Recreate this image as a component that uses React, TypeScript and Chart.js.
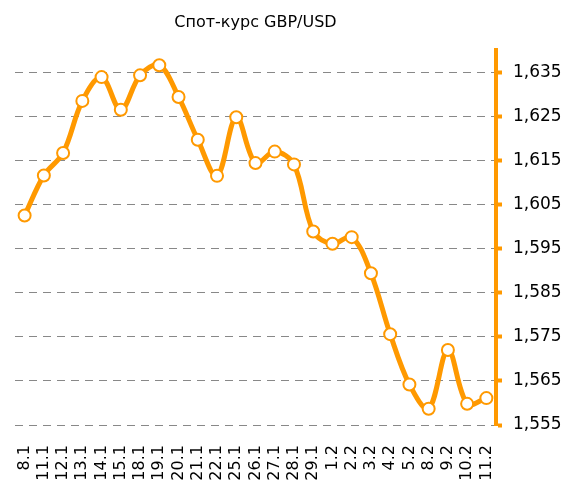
import React, { useEffect, useRef } from 'react';
import { Chart, registerables } from 'chart.js';

Chart.register(...registerables);

const categories = ['8.1', '11.1', '12.1', '13.1', '14.1', '15.1', '18.1', '19.1', '20.1', '21.1', '22.1', '25.1', '26.1', '27.1', '28.1', '29.1', '1.2', '2.2', '3.2', '4.2', '5.2', '8.2', '9.2', '10.2', '11.2'];
const rates = [1.6025, 1.6116, 1.6167, 1.6285, 1.6339, 1.6265, 1.6343, 1.6366, 1.6294, 1.6197, 1.6115, 1.6248, 1.6144, 1.6170, 1.6141, 1.5989, 1.5961, 1.5976, 1.5894, 1.5756, 1.5642, 1.5587, 1.5720, 1.5598, 1.5611];
const yTicks = [1.555, 1.565, 1.575, 1.585, 1.595, 1.605, 1.615, 1.625, 1.635];
const yMin = 1.555;
const yMax = 1.64;
const titleText = 'Спот-курс GBP/USD';

const ORANGE = '#FF9900';
const FAMILY = '"DejaVu Sans", sans-serif';

export default function App() {
  const ref = useRef<HTMLCanvasElement | null>(null);
  useEffect(() => {
    if (!ref.current) return;
    const chart = new Chart(ref.current, {
      type: 'line',
      data: {
        labels: categories,
        datasets: [
          {
            data: rates,
            borderColor: ORANGE,
            borderWidth: 5,
            pointRadius: 6,
            pointBorderWidth: 2,
            pointBackgroundColor: '#ffffff',
            pointBorderColor: ORANGE,
            tension: 0.35,
            fill: false,
            clip: false as any,
          },
        ],
      },
      options: {
        responsive: false,
        animation: false,
        layout: { padding: { left: 15, right: 0, top: 0, bottom: 0 } },
        plugins: {
          legend: { display: false },
          tooltip: { enabled: false },
          title: {
            display: true,
            text: titleText,
            color: '#000',
            font: { family: FAMILY, size: 16, weight: 'normal' },
            fullSize: false,
            padding: { top: 13, bottom: 18 },
          },
        },
        scales: {
          x: {
            type: 'category',
            offset: true,
            grid: { display: false },
            border: { display: false },
            ticks: {
              autoSkip: false,
              maxRotation: 90,
              minRotation: 90,
              color: '#000',
              font: { family: FAMILY, size: 16 },
              padding: 12,
            },
            afterFit: (s: any) => {
              s.height = 57;
            },
          },
          y: {
            position: 'right',
            min: yMin,
            max: yMax,
            afterBuildTicks: (s: any) => {
              s.ticks = yTicks.map((v) => ({ value: v }));
            },
            grid: {
              color: '#888888',
              lineWidth: 1,
              drawTicks: true,
              tickLength: 6,
              tickColor: ORANGE,
              tickWidth: 4,
            },
            border: { display: true, color: ORANGE, width: 4, dash: [8, 6] },
            ticks: {
              color: '#000',
              font: { family: FAMILY, size: 17 },
              padding: 11,
              callback: (v: any) => Number(v).toFixed(3).replace('.', ','),
            },
            afterFit: (s: any) => {
              s.width = 71;
            },
          },
        },
      },
    } as any);
    return () => chart.destroy();
  }, []);
  return (
    <canvas
      ref={ref}
      width={567}
      height={482}
      style={{ position: 'fixed', left: 0, top: 0, width: 567, height: 482, background: '#fff' }}
    />
  );
}
